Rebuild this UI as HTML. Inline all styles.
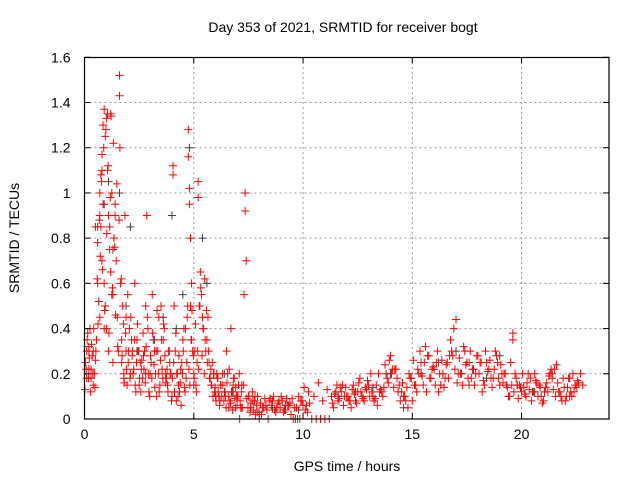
<!DOCTYPE html>
<html><head><meta charset="utf-8"><style>
body{margin:0;background:#fff}
svg{display:block;font-family:"Liberation Sans",sans-serif}
</style></head><body>
<svg id="chart" width="640" height="480" viewBox="0 0 640 480">
<rect width="640" height="480" fill="#fff"/>
<text x="343" y="32" font-size="14" text-anchor="middle">Day 353 of 2021, SRMTID for receiver bogt</text>
<text transform="translate(19,238) rotate(-90)" font-size="14" text-anchor="middle">SRMTID / TECUs</text>
<text x="347" y="471" font-size="14" text-anchor="middle">GPS time / hours</text>
<g id="grid"></g>
<g id="dark"></g>
<g id="red"></g>
<rect x="84.5" y="57.5" width="524.5" height="361.5" fill="none" stroke="#000" stroke-width="1.2"/>
<g id="ticks"></g>
</svg>
<script>
const xTicks=[0,5,10,15,20];
const yTicks=[0,0.2,0.4,0.6,0.8,1,1.2,1.4,1.6];
const yTickLabels=["0","0.2","0.4","0.6","0.8","1","1.2","1.4","1.6"];
const redX=[0.05,0.1,0.15,0.2,0.25,0.3,0.35,0.4,0.45,0.5,0.55,0.6,0.6,0.65,0.7,0.7,0.75,0.75,0.8,0.8,0.85,0.85,0.9,0.9,0.95,0.95,1.0,1.0,1.05,1.05,1.1,1.1,1.15,1.2,1.2,1.25,1.3,1.3,1.35,1.4,1.45,1.5,1.6,1.6,1.62,1.65,1.7,1.75,1.8,1.85,1.9,1.95,2.0,2.05,2.1,2.2,2.3,2.4,2.5,2.6,2.7,2.8,2.85,2.9,3.0,3.1,3.2,3.3,3.4,3.5,3.6,3.7,3.8,3.9,4.0,4.05,4.05,4.1,4.15,4.2,4.3,4.4,4.5,4.6,4.7,4.75,4.75,4.8,4.8,4.85,4.9,4.95,5.0,5.1,5.2,5.2,5.3,5.35,5.4,5.5,5.6,5.7,5.8,5.9,6.0,6.1,6.2,6.4,6.5,6.6,6.7,6.8,6.9,7.0,7.1,7.2,7.3,7.35,7.35,7.4,7.5,7.6,7.8,8.0,8.2,8.4,8.6,8.8,9.0,9.2,9.4,9.6,9.8,10.0,10.2,10.4,10.6,10.8,11.0,11.2,11.4,11.5,11.6,11.8,12.0,12.2,12.4,12.6,12.8,13.0,13.2,13.4,13.6,13.8,14.0,14.2,14.4,14.6,14.8,15.0,15.2,15.4,15.6,15.8,16.0,16.2,16.4,16.6,16.8,16.9,17.0,17.2,17.4,17.6,17.8,18.0,18.2,18.4,18.6,18.8,19.0,19.2,19.4,19.6,19.6,19.8,20.0,20.2,20.4,20.6,20.8,21.0,21.2,21.4,21.6,21.8,22.0,22.2,22.4,22.6,22.8,
0.1,0.2,0.3,0.4,0.5,0.7,0.8,0.9,1.15,1.25,1.4,1.55,1.7,1.8,1.9,2.15,2.25,2.35,2.45,2.55,2.65,2.75,2.95,3.05,3.15,3.25,3.35,3.45,3.55,3.65,3.75,3.85,3.95,4.25,4.35,4.45,4.55,4.65,4.85,4.9,5.05,5.15,5.25,5.45,5.55,5.65,5.75,5.85,5.95,6.05,6.15,6.3,6.45,6.55,6.65,6.75,6.85,6.95,7.05,7.15,7.7,7.9,8.1,8.3,8.5,8.7,8.9,9.1,9.3,9.5,9.7,9.9,10.1,10.3,11.3,11.7,11.9,12.1,12.3,12.5,12.7,12.9,13.1,13.3,13.5,13.7,13.9,14.1,14.3,14.5,14.7,14.9,15.1,15.3,15.5,15.7,15.9,16.1,16.3,16.5,16.7,17.1,17.3,17.5,17.7,17.9,18.1,18.3,18.5,18.7,18.9,19.1,19.3,19.5,19.7,19.9,20.1,20.3,20.5,20.7,20.9,21.1,21.3,21.5,21.7,21.9,22.1,22.3,22.5,22.7,
0.02,0.08,0.12,0.18,0.22,0.28,0.32,0.38,0.42,0.48,0.52,0.58,0.62,0.68,0.72,0.78,0.82,0.88,0.92,0.98,1.02,1.08,1.12,1.18,1.22,1.28,1.32,1.38,1.42,1.48,1.52,1.58,1.68,1.72,1.78,1.82,1.88,1.92,1.98,2.02,2.08,2.12,2.18,2.22,2.28,2.32,2.38,2.42,2.48,2.52,2.58,2.62,2.68,2.72,2.78,2.82,2.88,2.92,2.98,3.02,3.08,3.12,3.18,3.22,3.28,3.32,3.38,3.42,3.48,3.52,3.58,3.62,3.68,3.72,3.78,3.82,3.88,3.92,3.98,4.02,4.08,4.12,4.18,4.22,4.28,4.32,4.38,4.42,4.48,4.52,4.58,4.62,4.68,4.72,4.78,4.82,4.88,4.92,4.98,5.02,5.08,5.12,5.18,5.22,5.28,5.32,5.38,5.42,5.48,5.52,5.58,5.62,5.68,5.72,5.78,5.82,5.88,5.92,5.98,6.02,6.08,6.12,6.18,6.22,6.28,6.32,6.38,6.42,6.48,6.52,6.58,6.62,6.68,6.72,6.78,6.82,6.88,6.92,6.98,7.02,7.08,7.12,7.18,7.22,7.28,7.42,7.48,7.52,7.58,7.62,7.68,7.72,7.78,7.82,7.88,7.92,7.98,8.05,8.15,8.25,8.35,8.45,8.55,8.65,8.75,8.85,8.95,9.05,9.15,9.25,9.35,9.45,9.55,9.65,9.75,9.85,9.95,10.05,10.15,10.25,10.5,10.7,10.9,11.1,11.35,11.45,11.55,11.65,11.75,11.85,11.95,12.05,12.15,12.25,12.35,12.45,12.55,12.65,12.75,12.85,12.95,13.05,13.15,13.25,13.35,13.45,13.55,13.65,13.75,13.85,13.95,14.05,14.15,14.25,14.35,14.45,14.55,14.65,14.75,14.85,14.95,15.05,15.15,15.25,15.35,15.45,15.55,15.65,15.75,15.85,15.95,16.05,16.15,16.25,16.35,16.45,16.55,16.65,16.75,16.85,16.95,17.05,17.15,17.25,17.35,17.45,17.55,17.65,17.75,17.85,17.95,18.05,18.15,18.25,18.35,18.45,18.55,18.65,18.75,18.85,18.95,19.05,19.15,19.25,19.35,19.45,19.55,19.65,19.75,19.85,19.95,20.05,20.15,20.25,20.35,20.45,20.55,20.65,20.75,20.85,20.95,21.05,21.15,21.25,21.35,21.45,21.55,21.65,21.75,21.85,21.95,22.05,22.15,22.25,22.35,22.45,22.55,22.65,22.75];
const redY=[0.25,0.3,0.38,0.22,0.4,0.18,0.28,0.15,0.2,0.26,0.35,0.6,0.78,0.52,1.0,0.9,1.08,0.85,1.17,0.7,1.3,0.95,1.37,0.6,1.25,0.5,1.33,0.4,1.35,1.1,0.9,0.3,0.85,1.35,0.65,1.0,0.55,0.25,0.8,0.95,0.7,0.45,1.52,1.43,1.2,0.6,0.35,0.5,0.2,0.9,0.3,0.15,0.25,0.4,0.2,0.3,0.6,0.35,0.15,0.22,0.28,0.5,0.9,0.4,0.2,0.55,0.3,0.1,0.45,0.5,0.35,0.2,0.15,0.25,0.1,1.08,1.12,0.5,0.3,0.08,0.15,0.22,0.35,0.12,0.45,1.28,1.16,1.02,0.95,0.8,0.6,0.3,0.2,0.15,1.05,0.98,0.65,0.55,0.45,0.62,0.35,0.25,0.15,0.2,0.1,0.18,0.08,0.12,0.3,0.05,0.4,0.15,0.05,0.1,0.0,0.15,0.55,1.0,0.92,0.7,0.1,0.05,0.1,0.0,0.05,0.0,0.08,0.05,0.1,0.04,0.07,0.05,0.1,0.06,0.03,0.0,0.0,0.0,0.0,0.0,0.05,0.12,0.08,0.15,0.1,0.05,0.12,0.18,0.08,0.15,0.1,0.06,0.12,0.2,0.28,0.22,0.15,0.1,0.05,0.08,0.12,0.25,0.32,0.18,0.22,0.12,0.2,0.25,0.3,0.4,0.44,0.2,0.3,0.15,0.22,0.28,0.12,0.25,0.18,0.3,0.15,0.2,0.1,0.38,0.35,0.15,0.12,0.1,0.18,0.2,0.15,0.08,0.12,0.18,0.24,0.1,0.08,0.18,0.12,0.16,0.15,
0.18,0.32,0.22,0.3,0.85,0.45,1.1,0.4,0.75,0.55,0.9,0.3,0.25,0.18,0.45,0.35,0.22,0.12,0.3,0.25,0.18,0.3,0.12,0.25,0.35,0.2,0.3,0.15,0.22,0.4,0.18,0.3,0.2,0.2,0.12,0.25,0.4,0.18,0.5,0.35,0.3,0.25,0.5,0.4,0.3,0.45,0.18,0.25,0.12,0.2,0.1,0.15,0.1,0.2,0.08,0.12,0.18,0.1,0.15,0.05,0.08,0.03,0.02,0.06,0.09,0.04,0.08,0.03,0.06,0.09,0.05,0.08,0.04,0.07,0.1,0.14,0.1,0.08,0.15,0.12,0.1,0.13,0.2,0.09,0.12,0.14,0.16,0.22,0.18,0.12,0.08,0.18,0.15,0.2,0.15,0.28,0.22,0.25,0.15,0.18,0.28,0.2,0.15,0.25,0.18,0.2,0.25,0.15,0.22,0.18,0.25,0.2,0.15,0.25,0.2,0.15,0.14,0.2,0.12,0.16,0.1,0.14,0.2,0.22,0.12,0.18,0.14,0.1,0.14,0.2,0.13,
0.22,0.35,0.18,0.27,0.12,0.33,0.2,0.4,0.14,0.3,0.62,0.42,0.88,0.72,1.05,0.66,1.2,0.48,1.28,0.82,1.12,0.38,0.98,1.34,0.58,1.22,0.76,0.46,1.04,0.32,0.88,0.62,0.28,0.42,0.16,0.38,0.22,0.55,0.3,0.18,0.45,0.28,0.2,0.35,0.15,0.25,0.42,0.3,0.18,0.12,0.26,0.38,0.22,0.16,0.32,0.45,0.2,0.1,0.28,0.18,0.38,0.24,0.14,0.3,0.48,0.2,0.12,0.26,0.35,0.18,0.42,0.28,0.16,0.22,0.12,0.3,0.2,0.08,0.18,0.25,0.12,0.38,0.2,0.1,0.28,0.16,0.06,0.2,0.3,0.14,0.4,0.25,0.5,0.22,0.15,0.35,0.48,0.28,0.18,0.42,0.12,0.3,0.22,0.5,0.58,0.28,0.4,0.2,0.35,0.48,0.25,0.3,0.18,0.22,0.15,0.1,0.2,0.14,0.08,0.18,0.12,0.06,0.15,0.1,0.2,0.08,0.12,0.05,0.16,0.1,0.22,0.07,0.12,0.04,0.18,0.09,0.14,0.06,0.1,0.2,0.08,0.12,0.05,0.15,0.09,0.05,0.1,0.03,0.07,0.12,0.04,0.08,0.02,0.06,0.1,0.03,0.07,0.05,0.09,0.04,0.08,0.06,0.1,0.03,0.07,0.05,0.08,0.04,0.09,0.06,0.02,0.0,0.0,0.0,0.0,0.08,0.14,0.06,0.12,0.1,0.16,0.08,0.13,0.07,0.11,0.15,0.09,0.12,0.06,0.14,0.1,0.08,0.13,0.11,0.07,0.16,0.12,0.09,0.14,0.17,0.1,0.12,0.08,0.15,0.2,0.13,0.1,0.24,0.18,0.26,0.2,0.14,0.22,0.12,0.08,0.16,0.1,0.14,0.2,0.18,0.26,0.15,0.22,0.3,0.19,0.25,0.12,0.28,0.18,0.23,0.15,0.3,0.2,0.26,0.14,0.24,0.18,0.35,0.28,0.22,0.16,0.27,0.2,0.32,0.24,0.18,0.3,0.22,0.15,0.28,0.2,0.25,0.17,0.3,0.21,0.26,0.14,0.22,0.28,0.18,0.24,0.16,0.2,0.14,0.1,0.15,0.12,0.18,0.09,0.14,0.2,0.11,0.16,0.13,0.08,0.12,0.17,0.1,0.14,0.07,0.12,0.16,0.19,0.22,0.13,0.1,0.16,0.12,0.08,0.14,0.1,0.18,0.12,0.2,0.15,0.17];
const darkX=[0.2,0.6,0.9,1.1,1.3,1.6,1.9,2.1,2.4,2.8,3.2,3.6,4.0,4.2,4.5,4.8,5.0,5.4,5.6,6.0,6.4,6.8,7.2,8.0,8.6,9.2,9.8,11.6,12.4,13.2,14.0,14.6,15.4,16.2,17.0,17.6,18.4,19.0,19.8,20.6,21.4,22.2];
const darkY=[0.3,0.85,0.95,1.05,0.75,1.0,0.5,0.85,0.3,0.2,0.35,0.45,0.9,0.4,0.55,1.2,0.15,0.8,0.6,0.1,0.2,0.12,0.05,0.02,0.05,0.06,0.04,0.1,0.08,0.14,0.2,0.05,0.2,0.25,0.3,0.25,0.18,0.28,0.15,0.12,0.2,0.1];
const X0=84.5,X1=609,Y0=419,Y1=57.3,XMAX=24,YMAX=1.6;
const sx=v=>X0+(X1-X0)*v/XMAX, sy=v=>Y0-(Y0-Y1)*v/YMAX;
const NS="http://www.w3.org/2000/svg";
function mk(tag,parent){const e=document.createElementNS(NS,tag);document.getElementById(parent).appendChild(e);return e;}
xTicks.forEach((t,i)=>{const x=sx(t);
 if(t>0){const g=mk('line','grid');g.setAttribute('x1',x);g.setAttribute('x2',x);g.setAttribute('y1',Y0);g.setAttribute('y2',Y1);g.setAttribute('stroke','#999');g.setAttribute('stroke-dasharray','2,3');
 
 }
 const a=mk('line','ticks');a.setAttribute('x1',x);a.setAttribute('x2',x);a.setAttribute('y1',Y0);a.setAttribute('y2',Y0-6);a.setAttribute('stroke','#000');
 
 
 const b=mk('line','ticks');b.setAttribute('x1',x);b.setAttribute('x2',x);b.setAttribute('y1',Y1);b.setAttribute('y2',Y1+6);b.setAttribute('stroke','#000');
 
 
 const l=mk('text','ticks');l.setAttribute('x',x);l.setAttribute('y',Y0+20);l.setAttribute('font-size','14');l.setAttribute('text-anchor','middle');l.textContent=String(t);
 
 
});
yTicks.forEach((t,i)=>{const y=sy(t);
 if(t>0&&t<1.6){const g=mk('line','grid');g.setAttribute('x1',X0);g.setAttribute('x2',X1);g.setAttribute('y1',y);g.setAttribute('y2',y);g.setAttribute('stroke','#999');g.setAttribute('stroke-dasharray','2,3');
 
 }
 const a=mk('line','ticks');a.setAttribute('x1',X0);a.setAttribute('x2',X0+6);a.setAttribute('y1',y);a.setAttribute('y2',y);a.setAttribute('stroke','#000');
 
 
 const b=mk('line','ticks');b.setAttribute('x1',X1);b.setAttribute('x2',X1-6);b.setAttribute('y1',y);b.setAttribute('y2',y);b.setAttribute('stroke','#000');
 
 
 const l=mk('text','ticks');l.setAttribute('x',X0-14);l.setAttribute('y',y+5);l.setAttribute('font-size','14');l.setAttribute('text-anchor','end');l.textContent=yTickLabels[i];
 
 
});
function plus(parent,xv,yv,color,name){const x=sx(xv),y=sy(yv);
 const p=mk('path',parent);p.setAttribute('d',`M${x-4},${y}H${x+4}M${x},${y-4}V${y+4}`);p.setAttribute('stroke',color);p.setAttribute('stroke-width','1');
 
 
}
darkX.forEach((v,i)=>plus('dark',v,darkY[i],'#404040','dark-point'));
redX.forEach((v,i)=>plus('red',v,redY[i],'#ff0000','red-point'));
</script>
</body></html>
